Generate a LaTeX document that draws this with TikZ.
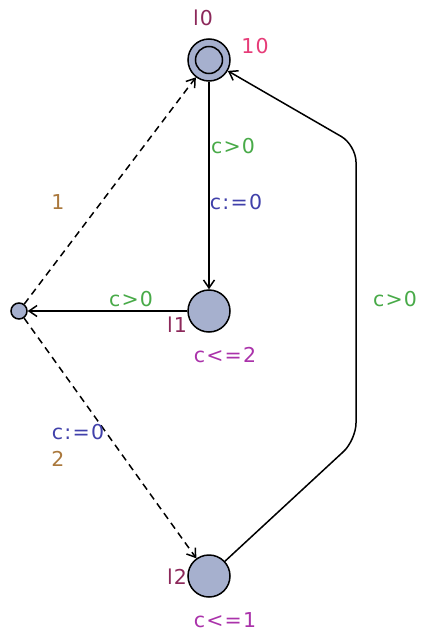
\documentclass[tikz,border=0pt]{standalone}
\usepackage{fontspec}
\setmainfont{DejaVu Sans}[LetterSpace=6]
\usepackage{tikz}
\usetikzlibrary{positioning,arrows.meta}

\definecolor{locfill}{RGB}{166,176,206}
\definecolor{guardcol}{RGB}{72,170,72}
\definecolor{assigncol}{RGB}{64,64,170}
\definecolor{namecol}{RGB}{140,40,90}
\definecolor{invcol}{RGB}{170,50,170}
\definecolor{probcol}{RGB}{170,120,60}
\definecolor{ratecol}{RGB}{230,60,120}

\begin{document}
\begin{tikzpicture}[
        x=1pt, y=-1pt,
        font=\fontsize{20.5}{24}\selectfont,
        >={Straight Barb[length=8pt,width=11pt]},
        edge/.style={->, line width=1.5pt, draw=black},
        probedge/.style={edge, dash pattern=on 7pt off 5pt},
        location/.style={
            circle,
            draw=black,
            fill=locfill,
            line width=1.5pt,
            minimum size=42pt,
            inner sep=0pt
        },
        branchpt/.style={location, minimum size=16pt},
        namelbl/.style={text=namecol, inner sep=0pt},
        guardlbl/.style={text=guardcol, inner sep=0pt},
        assignlbl/.style={text=assigncol, inner sep=0pt},
        invlbl/.style={text=invcol, inner sep=0pt},
        problbl/.style={text=probcol, inner sep=0pt}
    ]

    \useasboundingbox (0,0) rectangle (420,634);

    % Step 1: locations
    \node[
        location,
        path picture={\draw[line width=1.5pt] (path picture bounding box.center) circle (13.5pt);}
    ] (l0) at (209,60) {};
    \node[location] (l1) at (209,311) {};
    \node[location] (l2) at (209,576) {};
    \node[branchpt] (branch) at (19,311) {};

    % Step 2: names, invariants and rate
    \node[namelbl] (l0name) at (203,18) {l0};
    \node[text=ratecol, inner sep=0pt] (l0rate) at (255,46) {10};
    \node[namelbl] (l1name) at (177,325) {l1};
    \node[invlbl] (l1inv) at (225,355) {c<=2};
    \node[namelbl] (l2name) at (177,577) {l2};
    \node[invlbl] (l2inv) at (225,620) {c<=1};

    % Step 3: transitions
    \draw[edge] (l0) -- (l1);
    \node[guardlbl] (g01) at (233,146) {c>0};
    \node[assignlbl] (a01) at (236,202) {c:=0};

    \draw[edge] (l1) -- (branch);
    \node[guardlbl] (g1b) at (131,299) {c>0};

    \draw[probedge] (branch) -- (l0);
    \node[problbl] (p1) at (58,202) {1};

    \draw[probedge] (branch) -- (l2);
    \node[assignlbl] (a2) at (78,432) {c:=0};
    \node[problbl] (p2) at (58,459) {2};

    \coordinate (nailA) at (356,440);
    \coordinate (nailB) at (356,145);
    \draw[edge, rounded corners=17pt] (l2) -- (nailA) -- (nailB) -- (l0);
    \node[guardlbl] (g20) at (395,299) {c>0};

\end{tikzpicture}
\end{document}
